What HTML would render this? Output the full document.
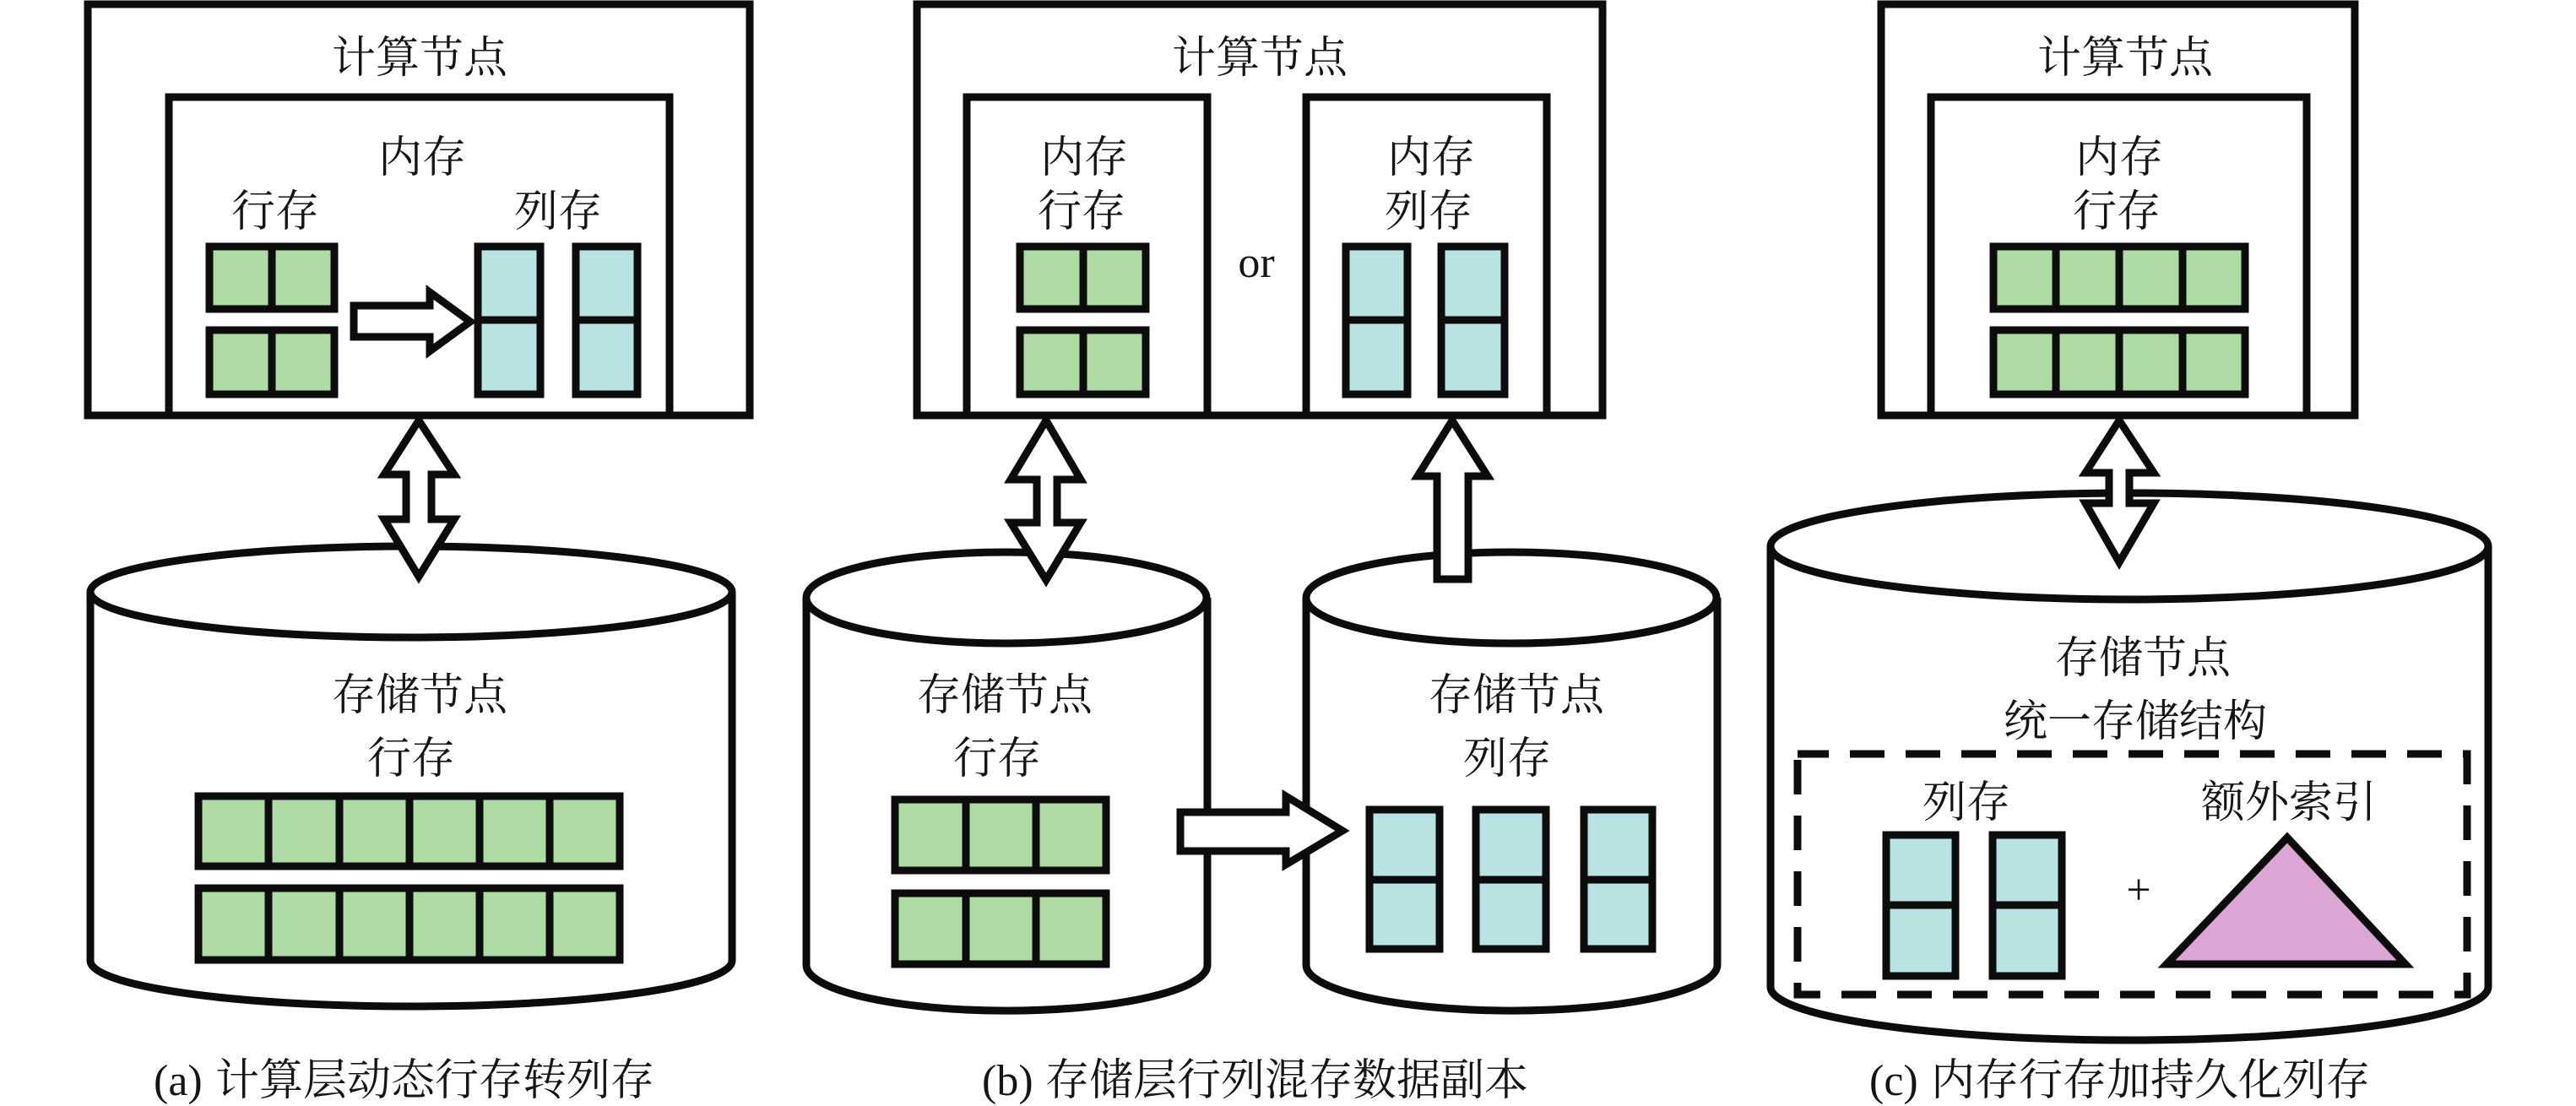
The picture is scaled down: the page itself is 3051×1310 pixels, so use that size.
<!DOCTYPE html>
<html lang="zh">
<head>
<meta charset="utf-8">
<title>行列存储架构</title>
<style>
html,body{margin:0;padding:0;background:#fff;}
svg{display:block;}
text{font-family:"Liberation Serif","Noto Serif CJK SC",serif;font-size:52px;fill:#151515;text-anchor:middle;}
.s{fill:none;stroke:#0c0c0c;stroke-width:9;stroke-linejoin:miter;}
.w{fill:#fff;stroke:#0c0c0c;stroke-width:9;stroke-linejoin:miter;stroke-miterlimit:6;}
.g{fill:#aedba3;stroke:#0c0c0c;stroke-width:9;}
.b{fill:#b8e3e2;stroke:#0c0c0c;stroke-width:9;}
.l{stroke:#0c0c0c;stroke-width:9;fill:none;}
.c{font-size:52px;text-anchor:start;}
</style>
</head>
<body>
<svg width="3051" height="1310" viewBox="0 0 3051 1310" xmlns="http://www.w3.org/2000/svg">
<rect width="3051" height="1310" fill="#fff"/>

<!-- PANEL A -->
<rect class="w" x="104" y="5" width="784" height="487"/>
<path class="s" d="M200 492V115H793V492"/>
<text x="497" y="86">计算节点</text>
<text x="500" y="204">内存</text>
<text x="326" y="268">行存</text>
<text x="661" y="268">列存</text>
<rect class="g" x="248" y="292" width="148" height="74"/>
<path class="l" d="M322 292V366"/>
<rect class="g" x="248" y="391" width="148" height="76"/>
<path class="l" d="M322 391V467"/>
<rect class="b" x="566" y="292" width="74" height="175"/>
<path class="l" d="M566 379H640"/>
<rect class="b" x="682" y="292" width="73" height="175"/>
<path class="l" d="M682 379H755"/>
<polygon class="w" points="419,362 509,362 509,346 557,381 509,416 509,399 419,399"/>

<path class="w" d="M107 701V1138A380 54 0 0 0 867 1138V701"/>
<ellipse class="w" cx="487" cy="701" rx="380" ry="54"/>
<polygon class="w" points="496,498 538,562 511,562 511,615 538,615 496,683 455,615 481,615 481,562 455,562"/>
<text x="497" y="841">存储节点</text>
<text x="487" y="916">行存</text>
<rect class="g" x="235" y="943" width="499" height="83"/>
<path class="l" d="M318 943V1026M402 943V1026M485 943V1026M568 943V1026M651 943V1026"/>
<rect class="g" x="235" y="1052" width="499" height="85"/>
<path class="l" d="M318 1052V1137M402 1052V1137M485 1052V1137M568 1052V1137M651 1052V1137"/>
<text class="c" x="182" y="1297">(a)</text>
<text class="c" x="255" y="1297">计算层动态行存转列存</text>

<!-- PANEL B -->
<rect class="w" x="1086" y="5" width="812" height="487"/>
<path class="s" d="M1145 492V115H1430V492"/>
<path class="s" d="M1547 492V115H1832V492"/>
<text x="1492" y="86">计算节点</text>
<text x="1284" y="204">内存</text>
<text x="1281" y="268">行存</text>
<text x="1695" y="204">内存</text>
<text x="1692" y="268">列存</text>
<text x="1488" y="328" style="font-size:52px">or</text>
<rect class="g" x="1208" y="292" width="149" height="74"/>
<path class="l" d="M1283 292V366"/>
<rect class="g" x="1208" y="391" width="149" height="76"/>
<path class="l" d="M1283 391V467"/>
<rect class="b" x="1594" y="292" width="73" height="175"/>
<path class="l" d="M1594 379H1667"/>
<rect class="b" x="1707" y="292" width="75" height="175"/>
<path class="l" d="M1707 379H1782"/>

<path class="w" d="M955 708V1143A237 54 0 0 0 1430 1143V708"/>
<ellipse class="w" cx="1192" cy="708" rx="237" ry="54"/>
<path class="w" d="M1547 708V1143A243 54 0 0 0 2034 1143V708"/>
<ellipse class="w" cx="1790" cy="708" rx="243" ry="54"/>
<polygon class="w" points="1239,498 1280,568 1252,568 1252,619 1280,619 1239,687 1197,619 1228,619 1228,568 1197,568"/>
<polygon class="w" points="1720,498 1762,564 1739,564 1739,686 1702,686 1702,564 1679,564"/>
<text x="1190" y="841">存储节点</text>
<text x="1181" y="916">行存</text>
<text x="1796" y="841">存储节点</text>
<text x="1785" y="916">列存</text>
<rect class="g" x="1060" y="947" width="250" height="84"/>
<path class="l" d="M1144 947V1031M1227 947V1031"/>
<rect class="g" x="1060" y="1058" width="250" height="84"/>
<path class="l" d="M1144 1058V1142M1227 1058V1142"/>
<rect class="b" x="1622" y="959" width="83" height="165"/>
<path class="l" d="M1622 1042H1705"/>
<rect class="b" x="1748" y="959" width="83" height="165"/>
<path class="l" d="M1748 1042H1831"/>
<rect class="b" x="1876" y="959" width="81" height="165"/>
<path class="l" d="M1876 1042H1957"/>
<polygon class="w" points="1398,962 1523,962 1523,943 1590,984 1523,1024 1523,1008 1398,1008"/>
<text class="c" x="1163" y="1297">(b)</text>
<text class="c" x="1238" y="1297">存储层行列混存数据副本</text>

<!-- PANEL C -->
<rect class="w" x="2228" y="5" width="561" height="487"/>
<path class="s" d="M2287 492V115H2732V492"/>
<text x="2517" y="86">计算节点</text>
<text x="2510" y="204">内存</text>
<text x="2507" y="268">行存</text>
<rect class="g" x="2361" y="292" width="298" height="74"/>
<path class="l" d="M2435 292V366M2510 292V366M2585 292V366"/>
<rect class="g" x="2361" y="391" width="298" height="76"/>
<path class="l" d="M2435 391V467M2510 391V467M2585 391V467"/>

<path class="w" d="M2097 647V1169A425 63 0 0 0 2947 1169V647"/>
<ellipse class="w" cx="2522" cy="647" rx="425" ry="63"/>
<polygon class="w" points="2510,498 2551,560 2522,560 2522,596 2551,596 2510,666 2470,596 2498,596 2498,560 2470,560"/>
<text x="2538" y="797">存储节点</text>
<text x="2529" y="872">统一存储结构</text>
<rect x="2129" y="893" width="793" height="285" fill="none" stroke="#0c0c0c" stroke-width="9" stroke-dasharray="41 25" stroke-dashoffset="4"/>
<text x="2329" y="968">列存</text>
<text x="2711" y="968">额外索引</text>
<rect class="b" x="2234" y="989" width="82" height="167"/>
<path class="l" d="M2234 1072H2316"/>
<rect class="b" x="2360" y="989" width="82" height="167"/>
<path class="l" d="M2360 1072H2442"/>
<text x="2533" y="1071">+</text>
<polygon class="g" points="2709,992 2566,1142 2849,1142" style="fill:#dba5d4"/>
<text class="c" x="2214" y="1297">(c)</text>
<text class="c" x="2287" y="1297">内存行存加持久化列存</text>
</svg>
</body>
</html>
